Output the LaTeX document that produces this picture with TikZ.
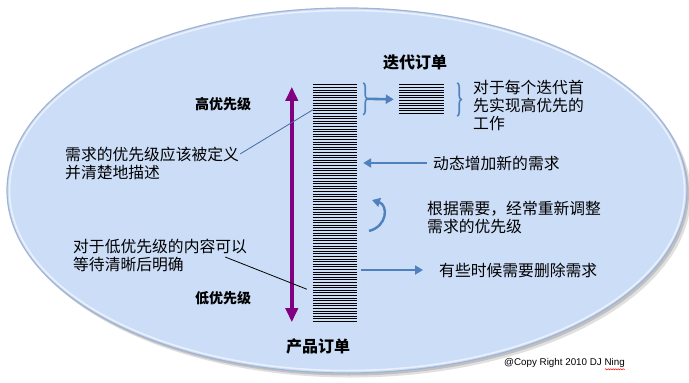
\documentclass[tikz,border=0pt]{standalone}
\usepackage{fontspec}
\setmainfont{Liberation Sans}
\newfontfamily\cjk{Noto Sans CJK SC}
\usetikzlibrary{arrows.meta,decorations.pathreplacing,decorations.pathmorphing}

\definecolor{ovalfill}{RGB}{204,221,247}
\definecolor{ovalline}{RGB}{160,180,212}
\definecolor{arrowblue}{RGB}{79,129,189}
\definecolor{prioline}{RGB}{128,0,128}
\definecolor{leadblue}{RGB}{70,105,160}

\tikzset{
  txt/.style={font=\cjk\fontsize{15.8}{18}\selectfont, anchor=west, align=left, inner sep=0pt},
  prio/.style={font=\cjk\bfseries\fontsize{14}{16}\selectfont, inner sep=0pt},
  title/.style={font=\cjk\bfseries\fontsize{16}{18}\selectfont, inner sep=0pt},
  stripe/.style={line width=0.9pt, black},
  bluearrow/.style={draw=arrowblue, line width=2.6pt, -{Triangle[length=8pt,width=9pt]}},
  bluebrace/.style={draw=arrowblue, line width=1.6pt, decorate, decoration={brace,amplitude=4pt}},
  leader/.style={line width=0.8pt},
  backlog/.style={inner sep=0pt, minimum width=44pt}
}

\begin{document}
\begin{tikzpicture}[x=1pt,y=-1pt]
\useasboundingbox (0,0) rectangle (689,383);
\fill[gray!80, opacity=0.3] (351,195) ellipse (340 and 182.5);
\fill[gray!80, opacity=0.45] (349,193) ellipse (340 and 182.5);
\filldraw[fill=ovalfill, draw=ovalline, line width=1.2pt] (347,190.5) ellipse (340 and 182.5);
\draw[white, opacity=0.6, line width=1.5pt] (347,190.5) ellipse (337.5 and 180);

\node[backlog, minimum height=237pt] (pb) at (335,203.5) {};
\node[backlog, minimum height=29pt, minimum width=45pt] (ib) at (421.5,99.5) {};
\foreach \k in {0,...,91}
  \draw[stripe] ([yshift=-\k*2.6pt]pb.north west) -- ([yshift=-\k*2.6pt]pb.north east);
\foreach \k in {0,...,11}
  \draw[stripe] ([yshift=-\k*2.6pt]ib.north west) -- ([yshift=-\k*2.6pt]ib.north east);

\node[title] (pbtitle) at (318,346) {产品订单};
\node[title] (ibtitle) at (415,62) {迭代订单};
\node[prio] (high) at (223,104) {高优先级};
\node[prio] (low) at (223,298) {低优先级};

\draw[draw=prioline, line width=3.5pt, {Triangle[length=14pt,width=12pt]}-{Triangle[length=14pt,width=12pt]}]
  ([xshift=-21pt,yshift=-2pt]pb.north west) -- ([xshift=-21pt]pb.south west);

\node[txt] (defn) at (65,163.5) {需求的优先级应该被定义\\并清楚地描述};
\node[txt] (later) at (73,255) {对于低优先级的内容可以\\等待清晰后明确};
\node[txt] (iter) at (473,105) {对于每个迭代首\\先实现高优先的\\工作};
\node[txt] (add) at (433,163) {动态增加新的需求};
\node[txt] (resort) at (427,218) {根据需要，经常重新调整\\需求的优先级};
\node[txt] (drop) at (439,270) {有些时候需要删除需求};
\node[font=\fontsize{9.8}{11}\selectfont, anchor=west, inner sep=0pt] (copy) at (504,363) {@Copy Right 2010 DJ Ning};

\draw[leader, leadblue] ([xshift=1pt,yshift=-7pt]defn.north east) -- ([yshift=-25pt]pb.north west);
\draw[leader] ([xshift=-22pt,yshift=-2pt]later.east) -- ([xshift=-6pt,yshift=33pt]pb.south west);

\draw[bluebrace] ([xshift=6pt,yshift=2pt]pb.north east) -- ([xshift=6pt,yshift=-30pt]pb.north east);
\coordinate (tip1) at ([xshift=10pt,yshift=-14pt]pb.north east);
\draw[bluearrow, shorten >=5pt] (tip1) -- (ib.west);
\draw[bluebrace] ([xshift=13pt,yshift=2pt]ib.north east) -- ([xshift=13pt,yshift=-2pt]ib.south east);

\draw[bluearrow, shorten <=6pt, shorten >=6pt] (add.west) -- (add.west -| pb.east);
\draw[bluearrow, shorten <=4pt, shorten >=16pt] (drop.west -| pb.east) -- (drop.west);

\coordinate (rb) at (369,231);
\coordinate (rt) at (372,200);
\draw[bluearrow, line width=2.4pt] (rb) .. controls (388,226) and (388,205) .. (rt);

\draw[red, line width=0.5pt, decorate, decoration={snake, amplitude=0.6pt, segment length=2.5pt}]
  ([xshift=-20pt,yshift=-1.5pt]copy.south east) -- ([yshift=-1.5pt]copy.south east);
\end{tikzpicture}
\end{document}
